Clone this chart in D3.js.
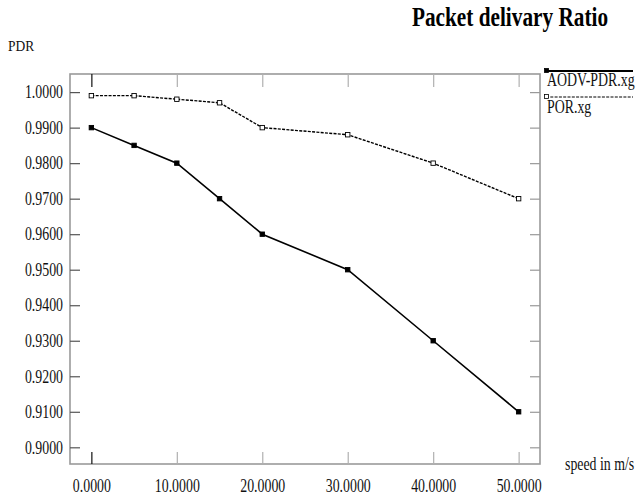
<!DOCTYPE html>
<html>
<head>
<meta charset="utf-8">
<script src="https://cdn.jsdelivr.net/npm/d3@7"></script>
<style>
  body { margin: 0; background: #fff; }
  .sq { transform-box: fill-box; }
</style>
</head>
<body>
<div id="chart"></div>
<script>

// ---------------- data ----------------
var speeds = [0, 5, 10, 15, 20, 30, 40, 50];
var aodvPdr = [0.9900, 0.9850, 0.9800, 0.9700, 0.9600, 0.9500, 0.9300, 0.9100];
var porPdr = [0.9990, 0.9990, 0.9980, 0.9970, 0.9900, 0.9880, 0.9800, 0.9700];
var xTicks = [0, 10, 20, 30, 40, 50];
var yTicks = [0.90, 0.91, 0.92, 0.93, 0.94, 0.95, 0.96, 0.97, 0.98, 0.99, 1.00];
var seriesNames = ['AODV-PDR.xg', 'POR.xg'];
var chartTitle = 'Packet delivary Ratio';
var yTitle = 'PDR';
var xTitle = 'speed in m/s';

function renderChart() {

  // Exposed variables
  var attrs = {
    svgWidth: 638,
    svgHeight: 497,
    marginTop: 74,
    marginLeft: 70,
    plotRight: 540,
    plotBottom: 464,
    defaultFont: '"Liberation Serif", "Times New Roman", serif',
    textFill: '#111',
    frameColor: '#9a9a9a',
    fontSize: 18,
    squeeze: 0.77
  };

  var calc = {};
  calc.chartWidth = attrs.plotRight - attrs.marginLeft;
  calc.chartHeight = attrs.plotBottom - attrs.marginTop;

  //################ SCALES ################
  var scales = {};
  scales.x = d3.scaleLinear().domain([-2.5, 52.5]).range([0, calc.chartWidth]);
  scales.y = d3.scaleLinear().domain([0.8953, 1.0051]).range([calc.chartHeight, 0]);

  //################ AXES ################
  var axes = {};
  axes.left = d3.axisLeft(scales.y).tickValues(yTicks).tickFormat(d3.format('.4f'))
    .tickSizeInner(-10).tickSizeOuter(0).tickPadding(7);
  axes.right = d3.axisRight(scales.y).tickValues(yTicks).tickFormat('')
    .tickSizeInner(-10).tickSizeOuter(0);
  axes.bottom = d3.axisBottom(scales.x).tickValues(xTicks).tickFormat(d3.format('.4f'))
    .tickSizeInner(-12).tickSizeOuter(0).tickPadding(15);
  axes.top = d3.axisTop(scales.x).tickValues(xTicks).tickFormat('')
    .tickSizeInner(-13).tickSizeOuter(0);

  var svg = d3.select('#chart').append('svg')
    .attr('width', attrs.svgWidth)
    .attr('height', attrs.svgHeight)
    .attr('font-family', attrs.defaultFont);

  var chart = svg.append('g')
    .attr('transform', 'translate(' + attrs.marginLeft + ',' + attrs.marginTop + ')');

  // narrow the serif glyphs like the original bitmap
  function squeeze(sel, k, origin) {
    sel.classed('sq', true)
      .style('transform-origin', origin)
      .style('transform', 'scaleX(' + k + ')');
  }

  //frame
  chart.append('rect')
    .attr('width', calc.chartWidth)
    .attr('height', calc.chartHeight)
    .attr('fill', 'none')
    .attr('stroke', attrs.frameColor)
    .attr('stroke-width', 1.6);

  function styleAxis(g, tickColor, firstColor) {
    g.select('.domain').remove();
    g.selectAll('.tick line')
      .attr('stroke', (d, i) => i === 0 && firstColor ? firstColor : tickColor)
      .attr('stroke-width', 1.2);
    g.selectAll('.tick text')
      .attr('fill', attrs.textFill)
      .attr('font-size', attrs.fontSize)
      .attr('font-family', attrs.defaultFont);
  }

  var leftAxis = chart.append('g').call(axes.left).call(styleAxis, '#555');
  squeeze(leftAxis.selectAll('.tick text'), attrs.squeeze, 'right center');

  chart.append('g').attr('transform', 'translate(' + calc.chartWidth + ',0)')
    .call(axes.right).call(styleAxis, '#999');

  var bottomAxis = chart.append('g').attr('transform', 'translate(0,' + calc.chartHeight + ')')
    .call(axes.bottom).call(styleAxis, '#b0b0b0', '#111');
  squeeze(bottomAxis.selectAll('.tick text'), attrs.squeeze, 'center');

  chart.append('g').call(axes.top).call(styleAxis, '#b0b0b0', '#111');

  //################ SERIES ################
  var line = d3.line()
    .x(d => scales.x(d.x))
    .y(d => scales.y(d.y));

  var series = [
    { name: seriesNames[0], values: speeds.map((s, i) => ({ x: s, y: aodvPdr[i] })), dash: null, width: 1.6, fill: '#000' },
    { name: seriesNames[1], values: speeds.map((s, i) => ({ x: s, y: porPdr[i] })), dash: '3,1.3', width: 1.4, fill: '#fff' }
  ];

  series.forEach(function (s) {
    chart.append('path')
      .datum(s.values)
      .attr('d', line)
      .attr('fill', 'none')
      .attr('stroke', '#000')
      .attr('stroke-width', s.width)
      .attr('stroke-dasharray', s.dash);

    chart.selectAll(null)
      .data(s.values)
      .enter().append('rect')
      .attr('x', d => scales.x(d.x) - 2.2)
      .attr('y', d => scales.y(d.y) - 2.2)
      .attr('width', 4.4)
      .attr('height', 4.4)
      .attr('fill', s.fill)
      .attr('stroke', '#000')
      .attr('stroke-width', 0.9);
  });

  //################ LEGEND ################
  var legend = svg.append('g').attr('transform', 'translate(546,0)');
  var legendRows = [
    { y: 71, text: 86 },
    { y: 97, text: 113 }
  ];
  series.forEach(function (s, i) {
    var row = legendRows[i];
    legend.append('line')
      .attr('x1', 0).attr('x2', 87)
      .attr('y1', row.y).attr('y2', row.y)
      .attr('stroke', '#000')
      .attr('stroke-width', s.dash ? 1 : 1.8)
      .attr('stroke-dasharray', s.dash);
    legend.append('rect')
      .attr('x', -1.5).attr('y', row.y - 2.5)
      .attr('width', 4).attr('height', 4)
      .attr('fill', s.fill)
      .attr('stroke', '#000')
      .attr('stroke-width', 0.8);
    var t = legend.append('text')
      .attr('x', 1).attr('y', row.text)
      .attr('font-size', attrs.fontSize)
      .attr('fill', attrs.textFill)
      .text(s.name);
    squeeze(t, attrs.squeeze, 'left center');
  });

  //################ TITLES ################
  var title = svg.append('text')
    .attr('x', 510).attr('y', 26)
    .attr('text-anchor', 'middle')
    .attr('font-size', 28)
    .attr('font-weight', 'bold')
    .attr('fill', '#000')
    .text(chartTitle);
  squeeze(title, 0.76, 'center');

  var yt = svg.append('text')
    .attr('x', 8).attr('y', 51)
    .attr('font-size', 15)
    .attr('fill', attrs.textFill)
    .text(yTitle);
  squeeze(yt, 0.9, 'left center');

  var xt = svg.append('text')
    .attr('x', 565).attr('y', 470)
    .attr('font-size', attrs.fontSize)
    .attr('fill', attrs.textFill)
    .text(xTitle);
  squeeze(xt, attrs.squeeze, 'left center');
}

renderChart();
</script>
</body>
</html>
